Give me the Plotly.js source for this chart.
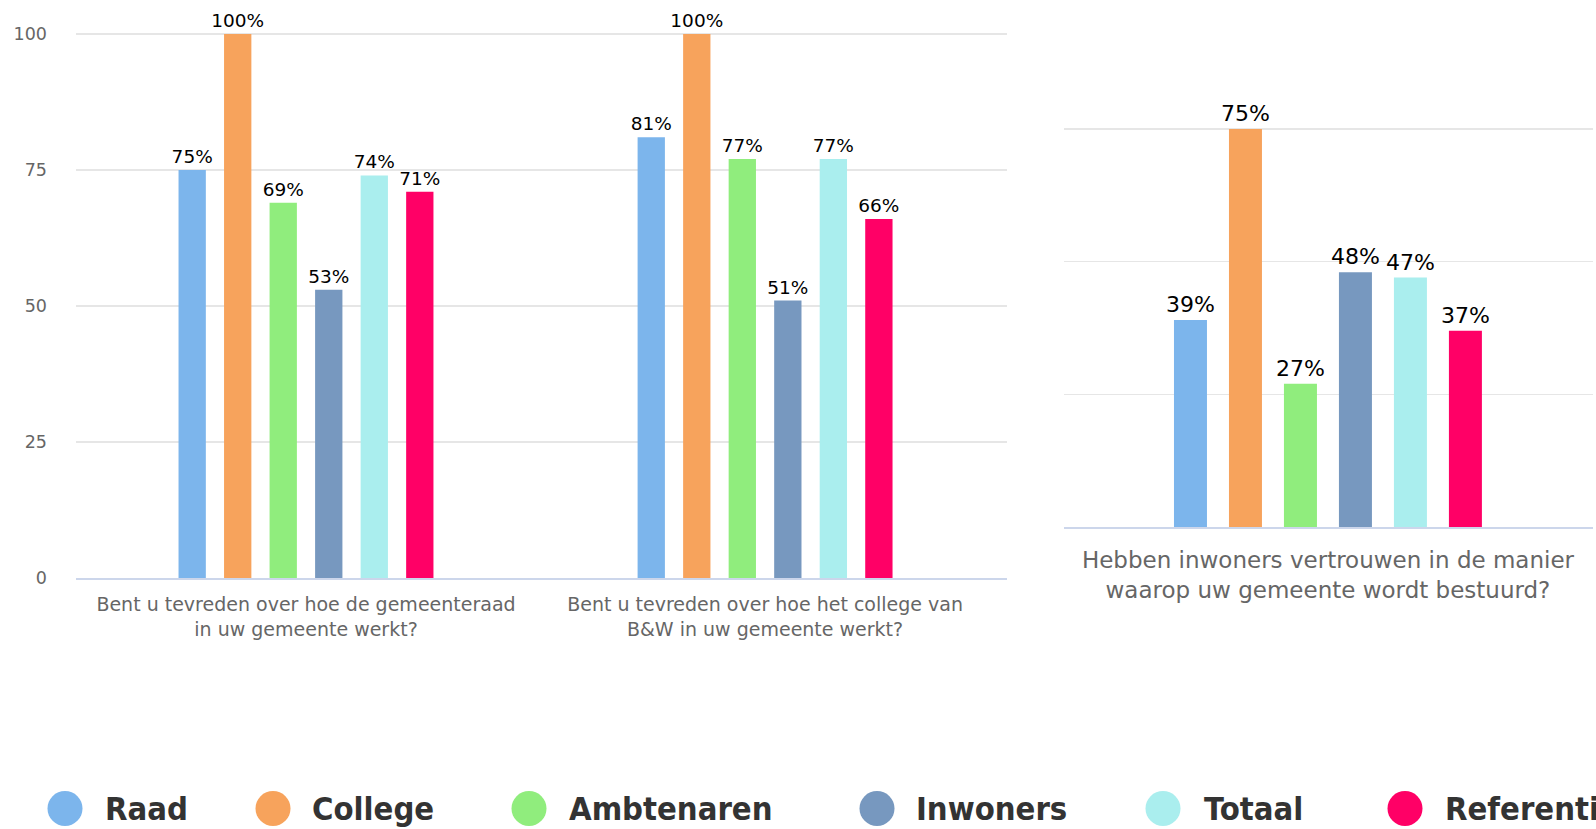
<!DOCTYPE html>
<html>
<head>
<meta charset="utf-8">
<script src="https://cdn.plot.ly/plotly-3.0.1.min.js"></script>
<style>
html,body{margin:0;padding:0;background:#fff;}
#chart{width:1596px;height:829px;}
</style>
</head>
<body>
<div id="chart"></div>
<script>
// ---- data ----
var seriesNames = ["Raad", "College", "Ambtenaren", "Inwoners", "Totaal", "Referentie"];
var seriesColors = ["#7cb5ec", "#f7a35c", "#90ed7d", "#7798bf", "#aaeeee", "#ff0066"];
var leftCategories = [
  "Bent u tevreden over hoe de gemeenteraad<br>in uw gemeente werkt?",
  "Bent u tevreden over hoe het college van<br>B&W in uw gemeente werkt?"
];
var rightCategories = [
  "Hebben inwoners vertrouwen in de manier<br>waarop uw gemeente wordt bestuurd?"
];
var raadLeft = [75, 81];
var collegeLeft = [100, 100];
var ambtenarenLeft = [69, 77];
var inwonersLeft = [53, 51];
var totaalLeft = [74, 77];
var referentieLeft = [71, 66];
var raadRight = [39];
var collegeRight = [75];
var ambtenarenRight = [27];
var inwonersRight = [48];
var totaalRight = [47];
var referentieRight = [37];
var leftTicks = [0, 25, 50, 75, 100];
var rightTicks = [0, 25, 50, 75];

var leftValues = [raadLeft, collegeLeft, ambtenarenLeft, inwonersLeft, totaalLeft, referentieLeft];
var rightValues = [raadRight, collegeRight, ambtenarenRight, inwonersRight, totaalRight, referentieRight];

var W = 1596, H = 829;
var baseFont = "DejaVu Sans, Verdana, sans-serif";

var traces = [];
seriesNames.forEach(function (name, i) {
  traces.push({
    type: "bar", name: name, x: leftCategories, y: leftValues[i],
    xaxis: "x", yaxis: "y",
    marker: { color: seriesColors[i], line: { width: 0 } },
    texttemplate: "%{y}%", textposition: "outside", constraintext: "none",
    cliponaxis: false, showlegend: false, hoverinfo: "skip",
    textfont: { family: baseFont, size: 18.5, color: "#000000" }
  });
  traces.push({
    type: "bar", name: name, x: rightCategories, y: rightValues[i],
    xaxis: "x2", yaxis: "y2",
    marker: { color: seriesColors[i], line: { width: 0 } },
    texttemplate: "%{y}%", textposition: "outside", constraintext: "none",
    cliponaxis: false, showlegend: false, hoverinfo: "skip",
    textfont: { family: baseFont, size: 22, color: "#000000" }
  });
});

// custom legend (circles + bold labels)
var legendCircleX = [65, 273, 529, 877, 1163, 1405];
var legendTextX = [103, 310, 567, 914, 1202, 1443];
var legendY = 808.5, r = 17.5;
var shapes = [], annotations = [];
seriesNames.forEach(function (name, i) {
  shapes.push({
    type: "circle", xref: "paper", yref: "paper",
    x0: (legendCircleX[i] - r) / W, x1: (legendCircleX[i] + r) / W,
    y0: (H - legendY - r) / H, y1: (H - legendY + r) / H,
    fillcolor: seriesColors[i], line: { width: 0 }
  });
  annotations.push({
    xref: "paper", yref: "paper", x: legendTextX[i] / W, y: (H - legendY) / H,
    xanchor: "left", yanchor: "middle", showarrow: false,
    text: "<b>" + name + "</b>",
    font: { family: "DejaVu Sans Condensed, DejaVu Sans, sans-serif", size: 32.5, color: "#333333" }
  });
});

// left: 0 at y=578px, 100 at y=34px ; right: 0 at 527px, 75 at 129px
var leftTop = 101, rightTop = 76;
var leftPx = (578 - 34) / 100, rightPx = (527 - 129) / 75;

var layout = {
  width: W, height: H,
  margin: { l: 0, r: 0, t: 0, b: 0, pad: 0 },
  paper_bgcolor: "#ffffff", plot_bgcolor: "rgba(0,0,0,0)",
  barmode: "group", bargap: 0.405, bargroupgap: 0.4,
  showlegend: false,
  xaxis: {
    domain: [76 / W, 1007 / W], anchor: "y",
    type: "category", range: [-0.501, 1.527],
    showline: true, linecolor: "#ccd6eb", linewidth: 1.5,
    showgrid: false, zeroline: false, ticks: "",
    ticklabelstandoff: 9,
    tickfont: { family: baseFont, size: 19, color: "#666666" }
  },
  yaxis: {
    domain: [(H - 578) / H, (H - 578 + leftTop * leftPx) / H], anchor: "x",
    range: [0, leftTop], tickvals: leftTicks, ticktext: leftTicks.map(String),
    showgrid: true, gridcolor: "#e6e6e6", gridwidth: 1.5,
    zeroline: false, showline: false, ticks: "",
    ticklabelstandoff: 28,
    tickfont: { family: baseFont, size: 17.5, color: "#666666" }
  },
  xaxis2: {
    domain: [1064 / W, 1593 / W], anchor: "y2",
    type: "category", range: [-0.476, 0.478],
    showline: true, linecolor: "#ccd6eb", linewidth: 1.5,
    showgrid: false, zeroline: false, ticks: "",
    ticklabelstandoff: 12,
    tickfont: { family: baseFont, size: 23, color: "#666666" }
  },
  yaxis2: {
    domain: [(H - 527) / H, (H - 527 + rightTop * rightPx) / H], anchor: "x2",
    range: [0, rightTop], tickvals: rightTicks,
    showgrid: true, gridcolor: "#e6e6e6", gridwidth: 1.5,
    zeroline: false, showline: false, ticks: "", showticklabels: false
  },
  shapes: shapes,
  annotations: annotations
};

Plotly.newPlot("chart", traces, layout, { displayModeBar: false, staticPlot: true });
</script>
</body>
</html>
